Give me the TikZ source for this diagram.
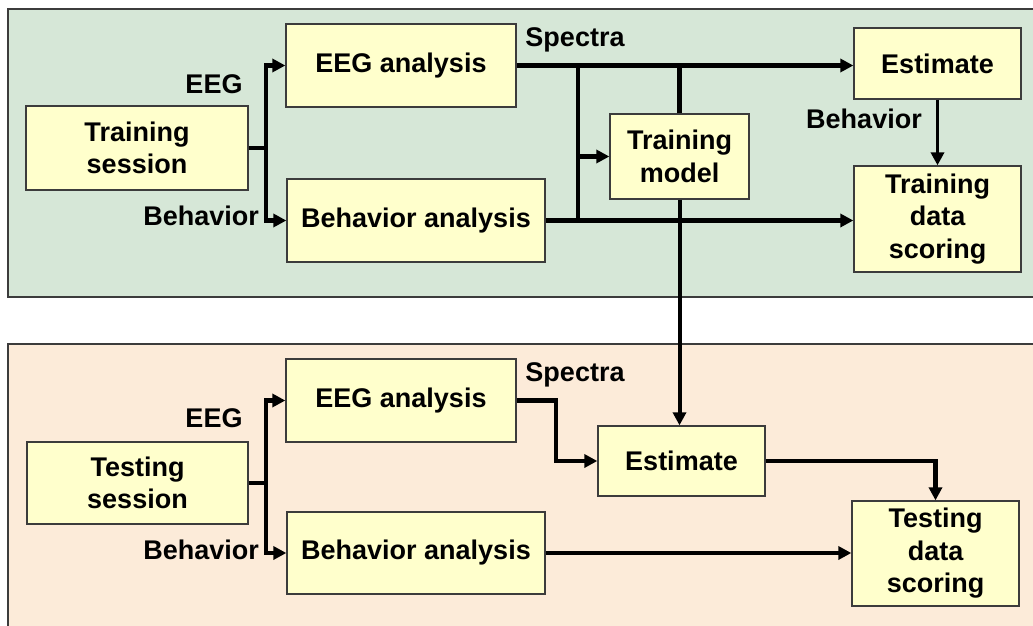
\documentclass[tikz,border=0pt]{standalone}
\usepackage{fontspec}
\setmainfont{Liberation Sans}
\usetikzlibrary{arrows.meta}
\definecolor{topbg}{RGB}{214,231,215}
\definecolor{botbg}{RGB}{252,235,217}
\definecolor{boxfill}{RGB}{255,255,204}
\definecolor{edge}{RGB}{60,60,60}
\tikzset{
  panel/.style={draw=edge, line width=1.2pt},
  blk/.style={draw=edge, line width=1.3pt, fill=boxfill, inner sep=0pt, align=center,
     font=\fontsize{27}{32.5}\selectfont\bfseries},
  lbl/.style={inner sep=0pt, font=\fontsize{27}{32}\selectfont\bfseries},
  conn/.style={line width=4.5pt, -{Triangle[length=13pt,width=13pt]}},
  plain/.style={line width=4.5pt},
}
\begin{document}
\begin{tikzpicture}[x=1pt,y=-1pt]
\useasboundingbox (0,0) rectangle (1033,626);
\clip (0,0) rectangle (1033,626);
\fill[white] (0,0) rectangle (1033,626);
% panels
\draw[panel, fill=topbg] (8,9) rectangle (1045,297);
\draw[panel, fill=botbg] (8,344) rectangle (1045,640);
% top boxes
\node[blk, minimum width=222pt, minimum height=84pt] (ts) at (137,148) {Training\\session};
\node[blk, minimum width=230pt, minimum height=83pt] (eeg1) at (401,65.5) {EEG analysis};
\node[blk, minimum width=258pt, minimum height=83pt] (beh1) at (416,220.5) {Behavior analysis};
\node[blk, minimum width=139pt, minimum height=85pt] (model) at (679.5,156.5) {Training\\model};
\node[blk, minimum width=167pt, minimum height=71pt] (est1) at (937.5,63.5) {Estimate};
\node[blk, minimum width=167pt, minimum height=106pt] (tds1) at (937.5,219) {Training\\data\\scoring};
% bottom boxes
\node[blk, minimum width=221pt, minimum height=82pt] (tsb) at (137.5,483) {Testing\\session};
\node[blk, minimum width=230pt, minimum height=83pt] (eeg2) at (401,400.5) {EEG analysis};
\node[blk, minimum width=258pt, minimum height=82pt] (beh2) at (416,553) {Behavior analysis};
\node[blk, minimum width=167pt, minimum height=70pt] (est2) at (681.5,461) {Estimate};
\node[blk, minimum width=167pt, minimum height=105pt] (tds2) at (935.5,553.5) {Testing\\data\\scoring};
% labels
\node[lbl] (leeg1) at (214,84) {EEG};
\node[lbl, anchor=east] (lbeh1) at (259,216) {Behavior};
\node[lbl] (lspec1) at (575,40) {Spectra};
\node[lbl] (lbeh2) at (864,119) {Behavior};
\node[lbl] (leeg2) at (214,418) {EEG};
\node[lbl, anchor=east] (lbeh3) at (259,550) {Behavior};
\node[lbl] (lspec2) at (575,375) {Spectra};
% coordinates
\coordinate (j1) at (266,148);
\coordinate (j2) at (266,483);
\coordinate (s1) at (578,65.5);
\coordinate (s2) at (578,220.5);
\coordinate (b2) at (556,400.5);
% top connectors
\draw[plain] (ts.east) -- (j1);
\draw[conn] (j1) |- (eeg1.west);
\draw[conn] (j1) |- (beh1.west);
\draw[conn, line width=5pt] (eeg1.east) -- (eeg1.east -| est1.west);
\draw[plain] (s1) -- (s2);
\draw[conn] (s2 |- model.west) -- (model.west);
\draw[plain] (model.north) -- (model.north |- eeg1.east);
\draw[conn] (beh1.east) -- (beh1.east -| tds1.west);
\draw[conn, line width=3.5pt] (est1.south) -- (tds1.north);
\draw[conn, line width=4pt] (model.south) -- (model.south |- est2.north);
% bottom connectors
\draw[plain] (tsb.east) -- (j2);
\draw[conn] (j2) |- (eeg2.west);
\draw[conn] (j2) |- (beh2.west);
\draw[conn] (eeg2.east) -- (b2) |- (est2.west);
\draw[conn] (est2.east) -| (tds2.north);
\draw[conn] (beh2.east) -- (beh2.east -| tds2.west);
\end{tikzpicture}
\end{document}
